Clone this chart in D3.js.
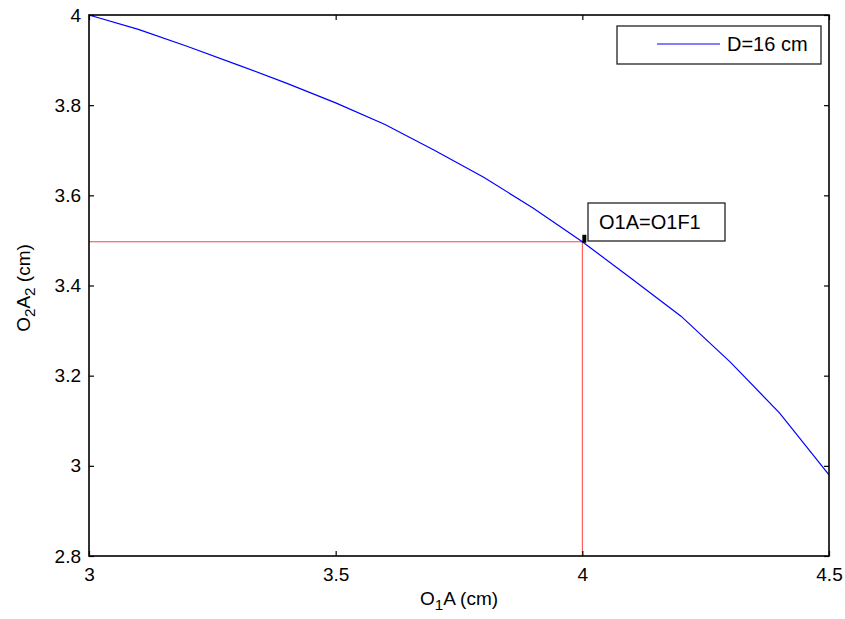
<!DOCTYPE html>
<html><head><meta charset="utf-8">
<script src="https://cdn.jsdelivr.net/npm/d3@7"></script>
<style>body{margin:0;background:#fff}svg{display:block;font-family:"Liberation Sans",Arial,sans-serif}</style>
</head><body><svg id="c" width="845" height="619"></svg>
<script>
const xValues = [3.0,3.1,3.2,3.3,3.4,3.5,3.6,3.7,3.8,3.9,4.0,4.1,4.2,4.3,4.4,4.5];
const yValues = [4.000,3.968,3.930,3.890,3.849,3.805,3.757,3.700,3.640,3.572,3.497,3.415,3.332,3.230,3.117,2.980];
const xTicks = [3,3.5,4,4.5];
const yTicks = [2.8,3,3.2,3.4,3.6,3.8,4];
const markX = 4.0, markY = 3.497;
const legendLabel = "D=16 cm";
const annotationText = "O1A=O1F1";

const svg = d3.select("#c");
const L=89, R=829, T=15, B=556;
const x = d3.scaleLinear().domain([3,4.5]).range([L,R]);
const y = d3.scaleLinear().domain([2.8,4]).range([B,T]);
const fs = 19;

// red guide lines
svg.append("line").attr("x1",x(3)).attr("x2",x(markX)).attr("y1",y(markY)).attr("y2",y(markY))
  .attr("stroke","#ff0000").attr("stroke-width",1).attr("stroke-opacity",0.75);
svg.append("line").attr("x1",x(markX)).attr("x2",x(markX)).attr("y1",y(markY)).attr("y2",y(2.8))
  .attr("stroke","#ff0000").attr("stroke-width",1).attr("stroke-opacity",0.75);

// curve
svg.append("path").datum(xValues.map((v,i)=>[v,yValues[i]]))
  .attr("d",d3.line().x(d=>x(d[0])).y(d=>y(d[1])))
  .attr("fill","none").attr("stroke","#0000ff").attr("stroke-width",1.2);

// axes with inward ticks
const tl=5;
const axBottom = d3.axisBottom(x).tickValues(xTicks).tickSize(-tl).tickPadding(12).tickFormat(d3.format("~g"));
const axLeft = d3.axisLeft(y).tickValues(yTicks).tickSize(-tl).tickPadding(8).tickFormat(d3.format("~g"));
const axTop = d3.axisTop(x).tickValues(xTicks).tickSize(-tl).tickFormat("");
const axRight = d3.axisRight(y).tickValues(yTicks).tickSize(-tl).tickFormat("");
function style(g){g.select(".domain").remove();g.selectAll("line").attr("stroke","#000").attr("stroke-width",1.2);g.selectAll("text").attr("fill","#000").attr("font-size",fs).attr("font-family","Liberation Sans, Arial, sans-serif");}
svg.append("g").attr("transform",`translate(0,${B})`).call(axBottom).call(style);
svg.append("g").attr("transform",`translate(${L},0)`).call(axLeft).call(style);
svg.append("g").attr("transform",`translate(0,${T})`).call(axTop).call(style);
svg.append("g").attr("transform",`translate(${R},0)`).call(axRight).call(style);

// box
svg.append("rect").attr("x",L).attr("y",T).attr("width",R-L).attr("height",B-T)
  .attr("fill","none").attr("stroke","#000").attr("stroke-width",1.6);

// marker
svg.append("rect").attr("x",x(markX)).attr("y",y(markY)-7).attr("width",4).attr("height",8).attr("fill","#000");

// annotation box
svg.append("rect").attr("x",588).attr("y",203).attr("width",137).attr("height",38)
  .attr("fill","#fff").attr("stroke","#222").attr("stroke-width",1.3);
svg.append("text").attr("x",599).attr("y",229).attr("font-size",fs+1).text(annotationText);

// legend
svg.append("rect").attr("x",617).attr("y",26).attr("width",204).attr("height",38)
  .attr("fill","#fff").attr("stroke","#222").attr("stroke-width",1.3);
svg.append("line").attr("x1",657).attr("x2",720).attr("y1",44).attr("y2",44).attr("stroke","#0000ff").attr("stroke-width",1.2);
svg.append("text").attr("x",727).attr("y",51).attr("font-size",fs+1).text(legendLabel);

// axis labels
const xl = svg.append("text").attr("x",(L+R)/2).attr("y",605).attr("text-anchor","middle").attr("font-size",fs);
xl.append("tspan").text("O");
xl.append("tspan").attr("dy",5).attr("font-size",fs*0.8).text("1");
xl.append("tspan").attr("dy",-5).text("A (cm)");
const yl = svg.append("text").attr("transform",`translate(30,288) rotate(-90)`).attr("text-anchor","middle").attr("font-size",fs);
yl.append("tspan").text("O");
yl.append("tspan").attr("dy",5).attr("font-size",fs*0.8).text("2");
yl.append("tspan").attr("dy",-5).text("A");
yl.append("tspan").attr("dy",5).attr("font-size",fs*0.8).text("2");
yl.append("tspan").attr("dy",-5).text(" (cm)");
</script></body></html>
